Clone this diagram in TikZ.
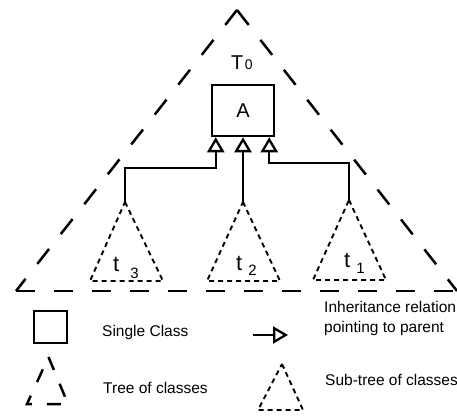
\documentclass[tikz,border=0pt]{standalone}
\usepackage{fontspec}
\setmainfont{Liberation Sans}
\usetikzlibrary{arrows.meta}

\begin{document}
\begin{tikzpicture}[x=1pt,y=-1pt,
  tree/.style={line width=2.5pt, dash pattern=on 19pt off 19pt},
  subtree/.style={line width=1.9pt, dash pattern=on 5pt off 4pt},
  classbox/.style={draw, line width=2.5pt, inner sep=0pt},
  inh/.style={line width=2.3pt, -{Triangle[open,length=15pt,width=17pt,line width=2.3pt]}},
  legend/.style={anchor=base west, inner sep=0pt, align=left,
                 font=\fontsize{15.5}{20}\selectfont},
  lbl/.style={anchor=base west, inner sep=0pt},
]
\useasboundingbox (0,0) rectangle (457,415);

% ---- whole tree T0 ----
\coordinate (T0top) at (237,10);
\coordinate (T0left) at (16,291);
\coordinate (T0right) at (457,291);
\draw[tree] (T0top) -- (T0right);
\draw[tree] (T0top) -- (T0left);
\draw[tree] (T0left) -- (T0right);
\node[lbl, font=\fontsize{20}{20}\selectfont] (T0name) at (231,69)
  {T\hspace{1.5pt}{\fontsize{14}{14}\selectfont 0}};

% ---- root class ----
\node[classbox, minimum width=62pt, minimum height=51pt,
      font=\fontsize{20}{20}\selectfont] (A) at (243,110.5) {A};

% ---- sub-trees ----
\coordinate (s3) at (125,202);
\coordinate (s2) at (243,202);
\coordinate (s1) at (349,200);
\draw[subtree] (s3) -- (163,281) -- (90,281) -- cycle;
\draw[subtree] (s2) -- (280,281) -- (207,281) -- cycle;
\draw[subtree] (s1) -- (386,280) -- (313,280) -- cycle;
\node[lbl, font=\fontsize{22}{22}\selectfont] (t3) at (113,271)
  {t\hspace{11pt}\raisebox{-7pt}{\fontsize{15}{15}\selectfont 3}};
\node[lbl, font=\fontsize{22}{22}\selectfont] (t2) at (236,270)
  {t\hspace{6pt}\raisebox{-5pt}{\fontsize{15}{15}\selectfont 2}};
\node[lbl, font=\fontsize{22}{22}\selectfont] (t1) at (344,267)
  {t\hspace{6pt}\raisebox{-6pt}{\fontsize{15}{15}\selectfont 1}};

% ---- inheritance relations to A ----
\coordinate (p3) at ([xshift=5pt]A.south west);
\coordinate (p2) at (A.south);
\coordinate (p1) at ([xshift=-6pt]A.south east);
\draw[inh] (s3) -- ++(0,-34) -| (p3);
\draw[inh] (s2) -- (p2);
\draw[inh] (s1) -- ++(0,-37) -| (p1);

% ---- legend ----
\node[classbox, minimum width=33pt, minimum height=32pt] (sq) at (50.5,327) {};
\node[legend] (sqtext) at (102,336) {Single Class};

\coordinate (la0) at (253,335);
\coordinate (la1) at (288,335);
\draw[inh] (la0) -- (la1);
\node[legend] (latext) at (324,332) {Inheritance relation\\pointing to parent};

\draw[line width=2.5pt, dash pattern=on 14pt off 15pt]
  (48.5,357) -- (68,404) -- (27,404) -- cycle;
\node[legend] (trtext) at (103,393) {Tree of classes};

\draw[subtree] (282,364) -- (303,410) -- (258,410) -- cycle;
\node[legend] (sttext) at (325,385) {Sub-tree of classes};
\end{tikzpicture}
\end{document}
